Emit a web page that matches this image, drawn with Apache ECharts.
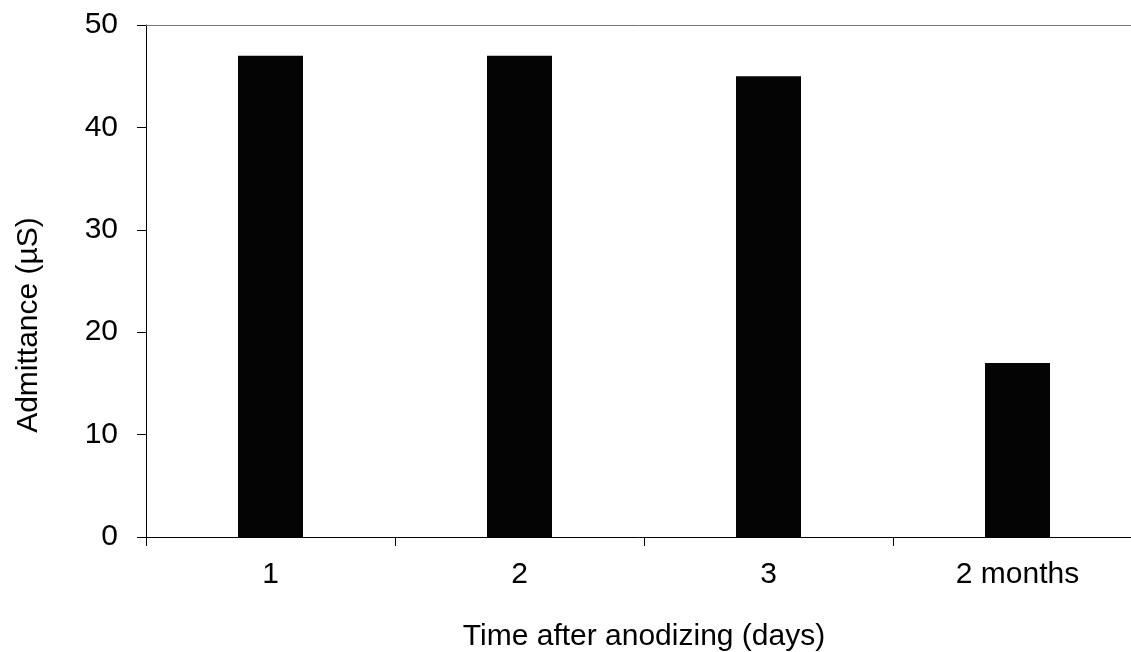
<!DOCTYPE html>
<html>
<head>
<meta charset="utf-8">
<script src="https://cdn.jsdelivr.net/npm/echarts@6/dist/echarts.min.js"></script>
<style>
html,body{margin:0;padding:0;background:#fff;}
#chart{width:1131px;height:652px;}
</style>
</head>
<body>
<div id="chart"></div>
<script>
const categories = ['1', '2', '3', '2 months'];
const admittance = [47, 47, 45, 17];
const yTicks = [0, 10, 20, 30, 40, 50];

const FONT = '"Liberation Sans", Arial, sans-serif';
const chart = echarts.init(document.getElementById('chart'), null, {renderer: 'canvas'});
chart.setOption({
  animation: false,
  backgroundColor: '#ffffff',
  grid: {left: 146, top: 25, width: 996, height: 512, containLabel: false, outerBoundsMode: 'none'},
  xAxis: [{
    type: 'category',
    data: categories,
    position: 'bottom',
    boundaryGap: true,
    axisLine: {show: true, lineStyle: {color: '#000', width: 1}},
    axisTick: {show: true, inside: false, length: 9, lineStyle: {color: '#000', width: 1}},
    axisLabel: {color: '#000', fontSize: 30, fontFamily: FONT, margin: 23},
    name: 'Time after anodizing (days)',
    nameLocation: 'middle',
    nameGap: 85,
    nameTextStyle: {color: '#000', fontSize: 30, fontFamily: FONT},
    splitLine: {show: false}
  }, {
    type: 'category',
    data: categories,
    position: 'top',
    axisLine: {show: true, lineStyle: {color: '#777', width: 1}},
    axisTick: {show: false},
    axisLabel: {show: false},
    splitLine: {show: false}
  }],
  yAxis: {
    type: 'value',
    min: yTicks[0],
    max: yTicks[yTicks.length - 1],
    interval: 10,
    axisLine: {show: true, lineStyle: {color: '#000', width: 1}},
    axisTick: {show: true, inside: false, length: 9, lineStyle: {color: '#000', width: 1}},
    axisLabel: {color: '#000', fontSize: 30, fontFamily: FONT, margin: 28},
    splitLine: {show: false},
    name: 'Admittance (µS)',
    nameLocation: 'middle',
    nameGap: 102,
    nameTextStyle: {color: '#000', fontSize: 30, fontFamily: FONT, padding: [0, 88, 0, 0]}
  },
  series: [{
    type: 'bar',
    data: admittance,
    xAxisIndex: 0,
    barWidth: 65,
    itemStyle: {color: '#040404'}
  }]
});
</script>
</body>
</html>
